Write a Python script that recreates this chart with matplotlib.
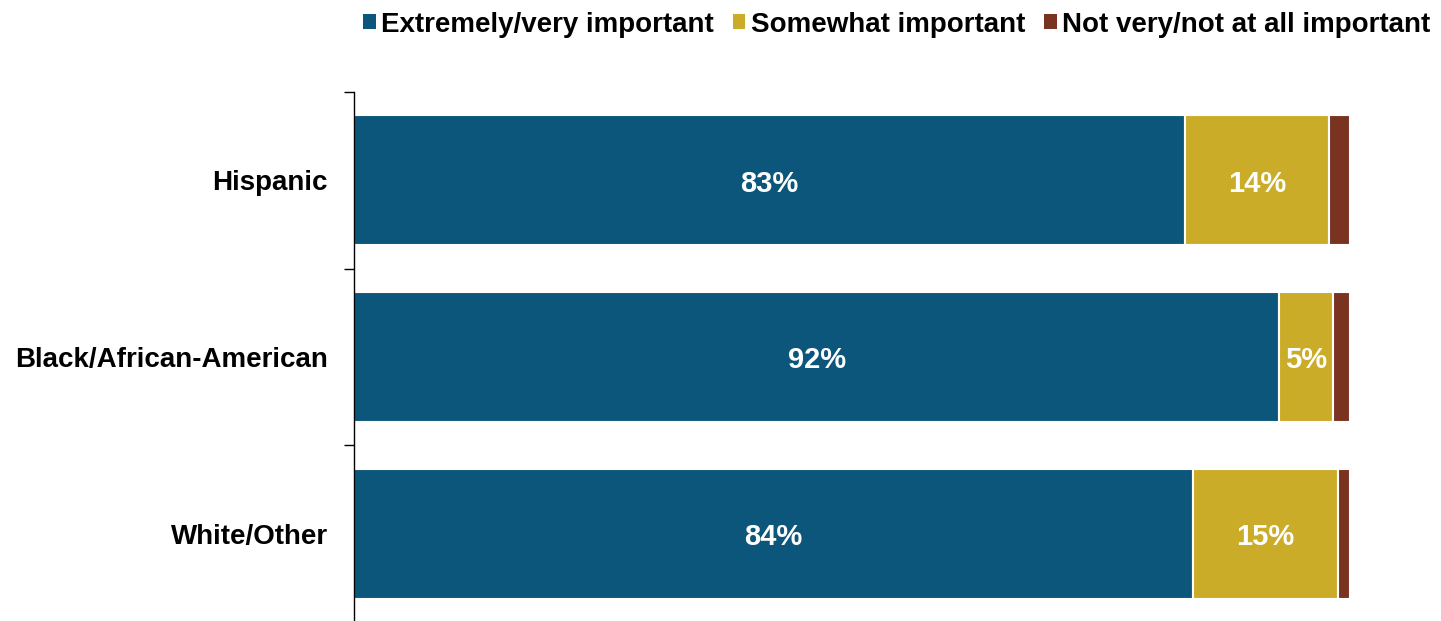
import matplotlib
matplotlib.use("Agg")
import matplotlib.pyplot as plt
from matplotlib.patches import Patch

plt.rcParams['font.family'] = ['Liberation Sans', 'DejaVu Sans']

categories = ["Hispanic", "Black/African-American", "White/Other"]
series_names = ["Extremely/very important", "Somewhat important", "Not very/not at all important"]
very = [83.4, 92.9, 84.2]
somewhat = [14.5, 5.4, 14.6]
notvery = [2.1, 1.7, 1.2]
very_labels = ["83%", "92%", "84%"]
somewhat_labels = ["14%", "5%", "15%"]
colors = ["#0d567b", "#cbac28", "#7b3321"]

fig = plt.figure(figsize=(14.41, 6.21), dpi=100)
ax = fig.add_axes([354/1441, -1/621, 996/1441, 530/621])

y = list(range(len(categories)))
left = [0.0] * len(categories)
for vals, col, labs in [(very, colors[0], very_labels), (somewhat, colors[1], somewhat_labels), (notvery, colors[2], None)]:
    bars = ax.barh(y, vals, left=left, height=0.735, color=col, edgecolor="white", linewidth=1.5)
    if labs is not None:
        for b, lab in zip(bars, labs):
            ax.annotate(lab, (b.get_x() + b.get_width() / 2, b.get_y() + b.get_height() / 2),
                        xytext=(0, -2.5), textcoords="offset points",
                        ha="center", va="center", color="white", fontsize=21, fontweight="bold")
    left = [l + v for l, v in zip(left, vals)]

ax.set_xlim(0, 100)
ax.set_ylim(2.5, -0.5)
ax.set_yticks(y)
ax.set_yticklabels(categories, fontsize=20, fontweight="bold")
ax.tick_params(axis="y", which="major", length=0, pad=19)
ax.set_yticks([-0.5, 0.5, 1.5, 2.5], minor=True)
ax.tick_params(axis="y", which="minor", length=7, width=1, direction="out")
ax.set_xticks([])
for s in ["top", "right", "bottom"]:
    ax.spines[s].set_visible(False)
ax.spines["left"].set_linewidth(1)

handles = [Patch(facecolor=c, edgecolor="none") for c in colors]
fig.legend(handles, series_names, loc="upper right", bbox_to_anchor=(1447/1441, 1.008), ncol=3,
           frameon=False, prop={"size": 20, "weight": "bold"}, handlelength=0.45, handleheight=0.45,
           handletextpad=0.2, columnspacing=0.68, borderaxespad=0.2)

fig.savefig("out.png", dpi=100)
